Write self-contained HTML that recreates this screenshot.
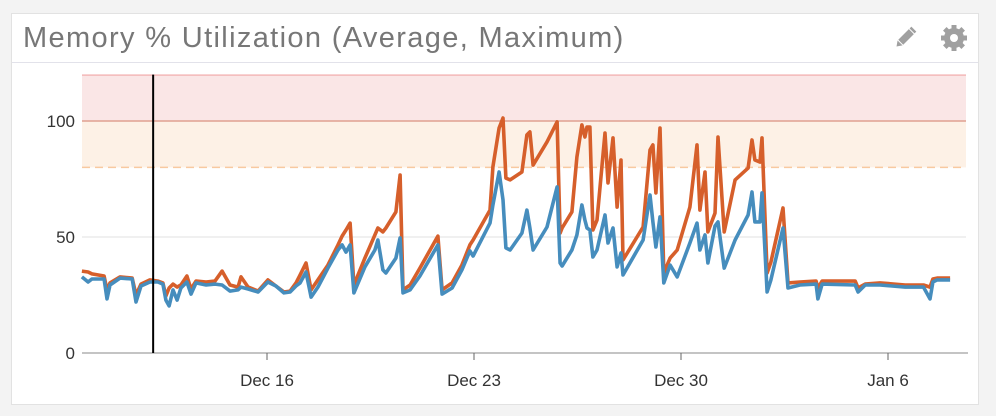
<!DOCTYPE html>
<html><head><meta charset="utf-8"><style>
html,body{margin:0;padding:0;background:#f3f3f3;width:996px;height:416px;overflow:hidden;font-family:"Liberation Sans",sans-serif}
#card{position:absolute;left:11px;top:13px;width:966px;height:390px;background:#fff;border:1px solid #e2e2e2}
#title{position:absolute;left:11px;top:8px;font-size:29px;letter-spacing:1.35px;color:#777;white-space:nowrap}
#hdr{position:absolute;left:0;top:48px;width:966px;height:1px;background:#e2e2ea}
svg{position:absolute;left:0;top:0}
</style></head><body>
<div id="card">
<div id="title">Memory % Utilization (Average, Maximum)</div>
<div id="hdr"></div>
</div>
<svg id="chart" width="996" height="416">
<g transform="translate(905,38) rotate(45)" fill="#a0a0a0">
<rect x="-3.5" y="-9" width="7" height="15"/><polygon points="-3.5,7 3.5,7 0,12"/><rect x="-3.5" y="-12.5" width="7" height="2.5"/>
</g>
<g transform="translate(954,38)" fill="#a0a0a0">
<circle r="10"/><g id="teeth"></g><circle r="4" fill="#fff"/>
</g>
</svg>
<script>
const days=[-6.26,-6.05,-5.92,-5.51,-5.41,-5.31,-4.97,-4.56,-4.43,-4.26,-3.96,-3.69,-3.52,-3.42,-3.31,-3.18,-3.04,-2.91,-2.71,-2.57,-2.40,-2.06,-1.76,-1.52,-1.25,-0.98,-0.88,-0.64,-0.30,0.03,0.30,0.57,0.78,0.98,1.12,1.32,1.49,1.72,2.06,2.40,2.54,2.67,2.81,2.94,3.31,3.65,3.75,3.92,4.02,4.36,4.50,4.60,4.84,5.17,5.78,5.92,6.26,6.59,6.86,6.97,7.54,7.64,7.85,7.98,8.08,8.22,8.62,8.79,8.89,9.00,9.47,9.81,9.91,9.98,10.31,10.48,10.65,10.75,10.82,10.92,11.02,11.16,11.43,11.53,11.70,11.84,11.97,12.04,12.72,12.95,13.05,13.15,13.29,13.42,13.63,13.87,14.30,14.54,14.64,14.81,14.91,15.15,15.25,15.46,15.83,16.27,16.40,16.50,16.67,16.74,16.91,17.04,17.45,17.62,18.02,18.57,18.63,18.77,19.89,19.99,20.23,20.73,21.58,22.20,22.42,22.52,22.66,23.10,23.64];
const maxVals=[35.3,34.9,34.1,33.2,27,30.2,32.8,32.3,25,29.7,31.5,31,30.2,24.6,28,29.7,28.4,29.3,33.2,27.6,31,30.6,31,35.3,29.3,28.4,32.8,28.4,26.7,31.5,28.9,26.3,26.7,30.2,33.6,38.8,27.2,31.5,37.9,46.6,50.4,53,56,29.3,40.9,50.9,53.9,52.2,53.9,60.8,76.7,27.2,29.3,36.6,50.4,27.2,30.2,37.9,46.6,48.7,61.6,80.2,97,101.3,75.4,74.6,78,94,95.3,81,91,99.6,51.7,53.9,60.8,84.5,98.3,93.1,97.4,97.4,53,57.3,94.8,73.3,92.7,62.9,83.2,40.1,54.3,87.5,89.7,69,97,34.5,40.9,44.4,62.9,89.7,61.6,78,52.2,60.3,93.1,52.2,74.6,79.7,91.8,83.2,82.3,92.7,34.5,39.2,62.5,30.2,30.6,31,28,31,31,28,29.7,30.2,29.3,29.3,28.4,31.9,32.3,32.3];
const avgVals=[32.8,30.6,31.9,31.9,23.3,29.3,32.3,31.9,22,28.9,30.6,30.6,29.7,22.8,20.3,27.2,22.8,28,30.6,25.4,30.2,29.3,29.7,29.3,26.7,27.2,28.4,27.6,26.3,30.6,28.9,25.9,26.3,28.9,30.2,34.9,24.1,28.4,36.6,44.4,46.6,43.5,46.6,25.9,37.1,44.4,48.7,35.8,34.5,40.9,49.6,25.9,27.2,33.2,46.6,25.4,28,35.8,44,41.8,56,63.8,78,66,45.3,44.4,51.7,61.6,53.9,44.4,54.3,71.6,38.8,37.5,44.4,50.9,63.8,57.3,53.9,53,41.4,44.4,59.5,47.4,53.9,37.1,43.1,33.6,48.7,68.1,56.5,45.7,58.6,30.2,37.9,32.8,47.4,56,44.4,50.9,38.8,54.7,56.5,36.6,48.7,59.5,69.4,56.5,56.5,69,26.3,31.5,53.9,28,29.3,29.7,23.3,29.7,29.3,26.3,29.3,29.3,28.4,28.4,23.3,30.6,31.5,31.5];
const yTicks=[0,50,100];
const xTickDays=[0,7,14,21];
const xTickLabels=["Dec 16","Dec 23","Dec 30","Jan 6"];
const markerDay=-3.85;

const NS="http://www.w3.org/2000/svg";
const svg=document.getElementById('chart');
const X0=82,X1=966,Y0=353;
const xs=d=>267+d*(207/7);
const ys=v=>Y0-v*2.32;
function mk(tag,attrs,parent){const e=document.createElementNS(NS,tag);for(const k in attrs)e.setAttribute(k,attrs[k]);(parent||svg).appendChild(e);return e;}
const teeth=document.getElementById('teeth');
for(let i=0;i<8;i++){const t=mk('rect',{x:-2.5,y:-13,width:5,height:6,transform:'rotate('+i*45+')'},teeth);

}
const g=mk('g',{});


let r=mk('rect',{x:X0,y:ys(120),width:X1-X0,height:ys(100)-ys(120),fill:'#fae6e6'},g);


r=mk('rect',{x:X0,y:ys(100),width:X1-X0,height:ys(80)-ys(100),fill:'#fdf1e6'},g);


let l=mk('line',{x1:X0,x2:X1,y1:ys(120)+0.5,y2:ys(120)+0.5,stroke:'#f3b8b8','stroke-width':1.5},g);


l=mk('line',{x1:X0,x2:X1,y1:ys(100),y2:ys(100),stroke:'#e0a090','stroke-width':1.5},g);


l=mk('line',{x1:X0,x2:X1,y1:ys(80),y2:ys(80),stroke:'#f8c9a0','stroke-width':1.5,'stroke-dasharray':'8,5'},g);


yTicks.forEach(v=>{
 if(v>0&&v<100){const gl=mk('line',{x1:X0,x2:X1,y1:ys(v),y2:ys(v),stroke:'#e2e2e2','stroke-width':1},g);
 
 }
 const t=mk('text',{x:75,y:ys(v)+6,'text-anchor':'end','font-size':17,fill:'#333'},g);t.textContent=v;
 
 
});
l=mk('line',{x1:X0,x2:X1+2,y1:Y0,y2:Y0,stroke:'#888','stroke-width':1},g);


xTickDays.forEach((d,i)=>{
 const tk=mk('line',{x1:xs(d),x2:xs(d),y1:Y0,y2:Y0+7,stroke:'#666','stroke-width':1},g);
 
 
 const t=mk('text',{x:xs(d),y:Y0+33,'text-anchor':'middle','font-size':17,fill:'#333'},g);t.textContent=xTickLabels[i];
 
 
});
function path(vals,color,name){
 const d=days.map((dd,i)=>(i?'L':'M')+xs(dd).toFixed(1)+','+ys(vals[i]).toFixed(1)).join('');
 const p=mk('path',{d:d,fill:'none',stroke:color,'stroke-width':3.6,'stroke-linejoin':'round'},g);
 
 
}
path(maxVals,'#d65f2b','maximum-series');
path(avgVals,'#468dbd','average-series');
l=mk('line',{x1:xs(markerDay),x2:xs(markerDay),y1:ys(120),y2:Y0,stroke:'#000','stroke-width':2},g);


</script>
</body></html>
